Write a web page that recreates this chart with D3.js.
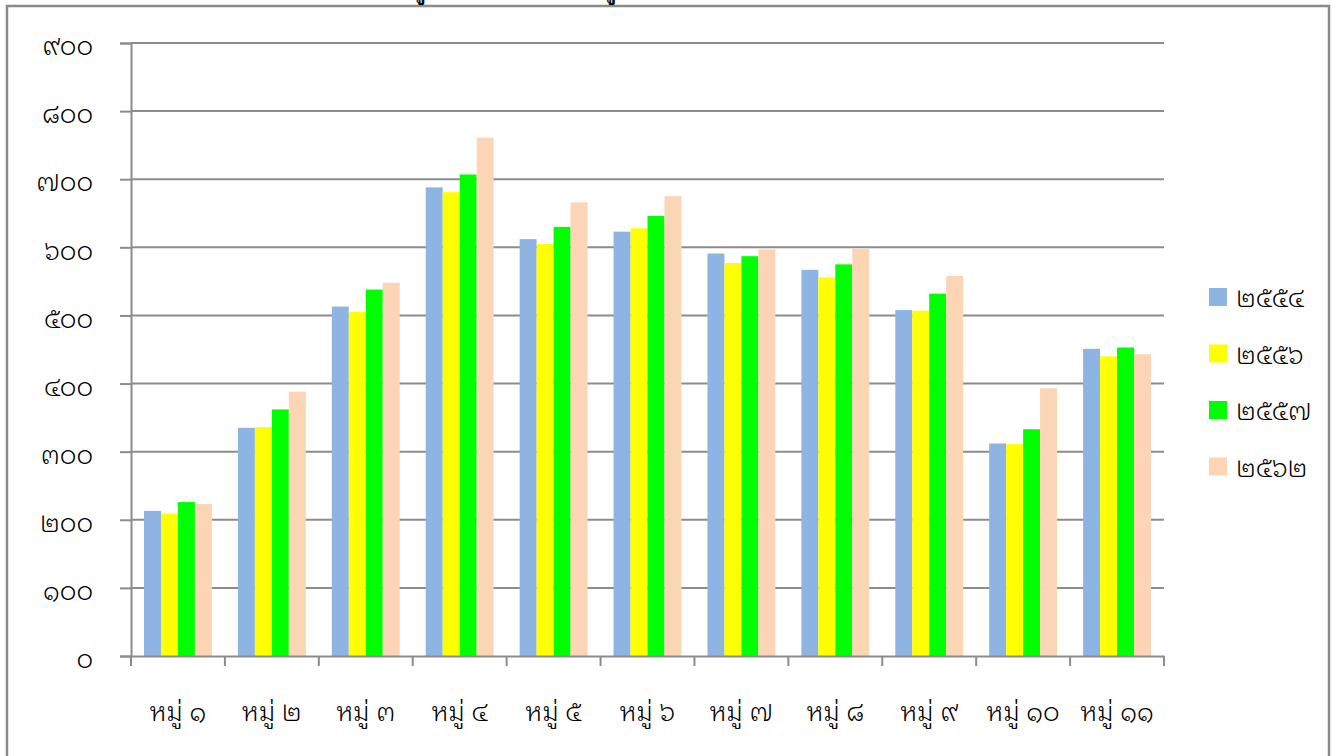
<!DOCTYPE html>
<html>
<head>
<meta charset="utf-8">
<script src="https://cdn.jsdelivr.net/npm/d3@7"></script>
<style>
  body { margin: 0; background: #fff; }
  svg { display: block; }
</style>
</head>
<body>
<svg id="chart" width="1341" height="756"></svg>
<script>
// groups along the x axis
var villages = ["หมู่ ๑", "หมู่ ๒", "หมู่ ๓", "หมู่ ๔", "หมู่ ๕", "หมู่ ๖",
                "หมู่ ๗", "หมู่ ๘", "หมู่ ๙", "หมู่ ๑๐", "หมู่ ๑๑"];
// series (years)
var years = ["๒๕๕๔", "๒๕๕๖", "๒๕๕๗", "๒๕๖๒"];
var y2554 = [213, 335, 513, 688, 612, 623, 591, 567, 508, 312, 451];
var y2556 = [209, 336, 505, 681, 605, 628, 577, 556, 507, 311, 440];
var y2557 = [226, 362, 538, 707, 630, 646, 587, 575, 532, 333, 453];
var y2562 = [223, 388, 548, 761, 666, 675, 597, 598, 558, 393, 443];
var yTicks = [0, 100, 200, 300, 400, 500, 600, 700, 800, 900];

var colors = ["#8EB4E3", "#FFFF00", "#00FF00", "#FCD5B5"];
var thaiDigits = "๐๑๒๓๔๕๖๗๘๙";
function toThai(n) {
    return String(n).replace(/[0-9]/g, function(c) { return thaiDigits[+c]; });
}

var font = "'Noto Sans Thai Looped', Loma, Garuda, 'Noto Sans Thai', sans-serif";
var fs = 26;
var fw = 300;
var grid = "#8c8c8c";

var svg = d3.select("#chart");

// frame round the chart
svg.append("rect")
   .attr("x", 7).attr("y", 6)
   .attr("width", 1322).attr("height", 780)
   .attr("fill", "none")
   .attr("stroke", "#8a8a8a")
   .attr("stroke-width", 2.5);

// title, mostly above the window
svg.append("text")
   .attr("x", 520).attr("y", -2)
   .attr("text-anchor", "middle")
   .attr("font-family", font)
   .attr("font-weight", "bold")
   .attr("font-size", 20)
   .text("ข้อมูลประชากร แยกรายหมู่บ้าน");

var pLeft = 131, pRight = 1164, pTop = 43, pBottom = 656;

var x0 = d3.scaleBand().domain(villages).range([pLeft, pRight]).paddingInner(0.277).paddingOuter(0.1385);
var x1 = d3.scaleBand().domain(years).range([0, x0.bandwidth()]);
var y = d3.scaleLinear().domain([0, 900]).range([pBottom, pTop]);

// gridlines
svg.append("g").selectAll("line")
   .data(yTicks.slice(1))
   .enter().append("line")
   .attr("x1", pLeft).attr("x2", pRight)
   .attr("y1", function(d) { return y(d); })
   .attr("y2", function(d) { return y(d); })
   .attr("stroke", grid)
   .attr("stroke-width", 2);

// bars
var series = [y2554, y2556, y2557, y2562];
var groups = svg.append("g").selectAll("g")
   .data(villages)
   .enter().append("g")
   .attr("transform", function(d) { return "translate(" + x0(d) + ",0)"; });

groups.selectAll("rect")
   .data(function(d, i) {
       return years.map(function(yr, k) { return {year: yr, k: k, v: series[k][i]}; });
   })
   .enter().append("rect")
   .attr("x", function(d) { return x1(d.year); })
   .attr("y", function(d) { return y(d.v); })
   .attr("width", x1.bandwidth())
   .attr("height", function(d) { return y(0) - y(d.v); })
   .attr("fill", function(d) { return colors[d.k]; });

// y axis
var yAxis = svg.append("g")
   .attr("transform", "translate(" + pLeft + ",0)")
   .call(d3.axisLeft(y).tickValues(yTicks).tickSize(11).tickPadding(27).tickFormat(toThai));
yAxis.select(".domain").attr("stroke", grid).attr("stroke-width", 2);
yAxis.selectAll(".tick line").attr("stroke", grid).attr("stroke-width", 2);
yAxis.selectAll("text")
   .attr("font-family", font)
   .attr("font-size", fs)
   .attr("font-weight", fw)
   .attr("fill", "#000")
   .attr("dy", "0.45em");

// x axis
var xAxis = svg.append("g")
   .attr("transform", "translate(0," + pBottom + ")")
   .call(d3.axisBottom(x0).tickSize(0).tickPadding(47));
xAxis.select(".domain").attr("stroke", grid).attr("stroke-width", 2);
xAxis.selectAll("text")
   .attr("font-family", font)
   .attr("font-size", fs)
   .attr("font-weight", fw)
   .attr("fill", "#000");
// boundary ticks between the groups
var bounds = villages.map(function(d) { return x0(d) - x0.step() * x0.paddingInner() / 2; });
bounds.push(pRight);
xAxis.selectAll(".sep")
   .data(bounds)
   .enter().append("line")
   .attr("class", "sep")
   .attr("x1", function(d) { return d; })
   .attr("x2", function(d) { return d; })
   .attr("y1", 0).attr("y2", 10)
   .attr("stroke", grid)
   .attr("stroke-width", 2);

// legend
var legend = svg.append("g").selectAll("g")
   .data(years)
   .enter().append("g")
   .attr("transform", function(d, i) { return "translate(1209," + (288 + i * 56.5) + ")"; });
legend.append("rect")
   .attr("width", 18).attr("height", 18)
   .attr("fill", function(d, i) { return colors[i]; });
legend.append("text")
   .attr("x", 27).attr("y", 9)
   .attr("dy", "0.4em")
   .attr("font-family", font)
   .attr("font-size", fs)
   .attr("font-weight", fw)
   .text(function(d) { return d; });
</script>
</body>
</html>
